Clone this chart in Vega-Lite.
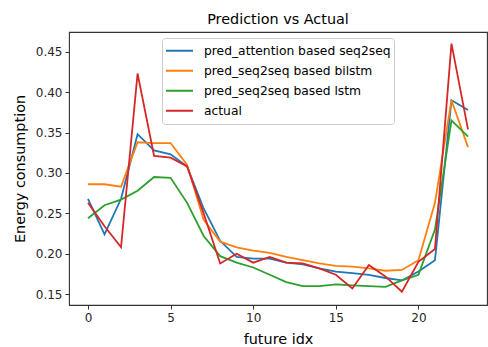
{
  "$schema": "https://vega.github.io/schema/vega-lite/v6.json",
  "autosize": {"type": "none"},
  "padding": {"left": 69, "top": 32, "right": 1, "bottom": 42},
  "width": 418,
  "height": 273,
  "background": "white",
  "config": {
    "font": "DejaVu Sans",
    "view": {"stroke": "#333333", "strokeWidth": 1.1},
    "axis": {
      "domain": false,
      "grid": false,
      "tickColor": "#333333",
      "tickSize": 4,
      "tickWidth": 1,
      "labelFont": "DejaVu Sans",
      "labelFontSize": 12,
      "labelColor": "#262626",
      "labelPadding": 3,
      "titleFont": "DejaVu Sans",
      "titleFontSize": 14.4,
      "titleFontWeight": "normal",
      "titleColor": "#000000"
    }
  },
  "title": {
    "text": "Prediction vs Actual",
    "font": "DejaVu Sans",
    "fontSize": 14.4,
    "fontWeight": "normal",
    "color": "#000000",
    "anchor": "middle",
    "offset": 4.5
  },
  "data": {
    "values": [
      {"idx": 0, "pred_attention based seq2seq": 0.268, "pred_seq2seq based bilstm": 0.286, "pred_seq2seq based lstm": 0.244, "actual": 0.263},
      {"idx": 1, "pred_attention based seq2seq": 0.224, "pred_seq2seq based bilstm": 0.286, "pred_seq2seq based lstm": 0.260, "actual": 0.234},
      {"idx": 2, "pred_attention based seq2seq": 0.268, "pred_seq2seq based bilstm": 0.283, "pred_seq2seq based lstm": 0.267, "actual": 0.208},
      {"idx": 3, "pred_attention based seq2seq": 0.348, "pred_seq2seq based bilstm": 0.338, "pred_seq2seq based lstm": 0.278, "actual": 0.423},
      {"idx": 4, "pred_attention based seq2seq": 0.328, "pred_seq2seq based bilstm": 0.337, "pred_seq2seq based lstm": 0.295, "actual": 0.321},
      {"idx": 5, "pred_attention based seq2seq": 0.323, "pred_seq2seq based bilstm": 0.337, "pred_seq2seq based lstm": 0.294, "actual": 0.319},
      {"idx": 6, "pred_attention based seq2seq": 0.308, "pred_seq2seq based bilstm": 0.310, "pred_seq2seq based lstm": 0.263, "actual": 0.308},
      {"idx": 7, "pred_attention based seq2seq": 0.256, "pred_seq2seq based bilstm": 0.242, "pred_seq2seq based lstm": 0.222, "actual": 0.250},
      {"idx": 8, "pred_attention based seq2seq": 0.216, "pred_seq2seq based bilstm": 0.215, "pred_seq2seq based lstm": 0.197, "actual": 0.188},
      {"idx": 9, "pred_attention based seq2seq": 0.196, "pred_seq2seq based bilstm": 0.208, "pred_seq2seq based lstm": 0.189, "actual": 0.200},
      {"idx": 10, "pred_attention based seq2seq": 0.194, "pred_seq2seq based bilstm": 0.204, "pred_seq2seq based lstm": 0.183, "actual": 0.189},
      {"idx": 11, "pred_attention based seq2seq": 0.194, "pred_seq2seq based bilstm": 0.201, "pred_seq2seq based lstm": 0.174, "actual": 0.196},
      {"idx": 12, "pred_attention based seq2seq": 0.189, "pred_seq2seq based bilstm": 0.196, "pred_seq2seq based lstm": 0.165, "actual": 0.189},
      {"idx": 13, "pred_attention based seq2seq": 0.187, "pred_seq2seq based bilstm": 0.192, "pred_seq2seq based lstm": 0.160, "actual": 0.188},
      {"idx": 14, "pred_attention based seq2seq": 0.182, "pred_seq2seq based bilstm": 0.188, "pred_seq2seq based lstm": 0.160, "actual": 0.182},
      {"idx": 15, "pred_attention based seq2seq": 0.178, "pred_seq2seq based bilstm": 0.185, "pred_seq2seq based lstm": 0.162, "actual": 0.174},
      {"idx": 16, "pred_attention based seq2seq": 0.176, "pred_seq2seq based bilstm": 0.184, "pred_seq2seq based lstm": 0.161, "actual": 0.157},
      {"idx": 17, "pred_attention based seq2seq": 0.174, "pred_seq2seq based bilstm": 0.182, "pred_seq2seq based lstm": 0.160, "actual": 0.186},
      {"idx": 18, "pred_attention based seq2seq": 0.170, "pred_seq2seq based bilstm": 0.179, "pred_seq2seq based lstm": 0.159, "actual": 0.172},
      {"idx": 19, "pred_attention based seq2seq": 0.167, "pred_seq2seq based bilstm": 0.180, "pred_seq2seq based lstm": 0.167, "actual": 0.153},
      {"idx": 20, "pred_attention based seq2seq": 0.178, "pred_seq2seq based bilstm": 0.192, "pred_seq2seq based lstm": 0.174, "actual": 0.190},
      {"idx": 21, "pred_attention based seq2seq": 0.192, "pred_seq2seq based bilstm": 0.263, "pred_seq2seq based lstm": 0.230, "actual": 0.206},
      {"idx": 22, "pred_attention based seq2seq": 0.390, "pred_seq2seq based bilstm": 0.390, "pred_seq2seq based lstm": 0.365, "actual": 0.460},
      {"idx": 23, "pred_attention based seq2seq": 0.378, "pred_seq2seq based bilstm": 0.332, "pred_seq2seq based lstm": 0.345, "actual": 0.354}
    ]
  },
  "transform": [
    {"fold": ["pred_attention based seq2seq", "pred_seq2seq based bilstm", "pred_seq2seq based lstm", "actual"], "as": ["series", "value"]}
  ],
  "mark": {"type": "line", "strokeWidth": 1.8, "clip": true},
  "encoding": {
    "x": {
      "field": "idx",
      "type": "quantitative",
      "scale": {"domain": [-1.15, 24.15], "nice": false, "zero": false},
      "axis": {"values": [0, 5, 10, 15, 20], "title": "future  idx", "titlePadding": 9}
    },
    "y": {
      "field": "value",
      "type": "quantitative",
      "scale": {"domain": [0.1366, 0.4744], "nice": false, "zero": false},
      "axis": {"values": [0.15, 0.2, 0.25, 0.3, 0.35, 0.4, 0.45], "format": ".2f", "title": "Energy consumption", "titlePadding": 8}
    },
    "color": {
      "field": "series",
      "type": "nominal",
      "scale": {
        "domain": ["pred_attention based seq2seq", "pred_seq2seq based bilstm", "pred_seq2seq based lstm", "actual"],
        "range": ["#1f77b4", "#ff7f0e", "#2ca02c", "#d62728"]
      },
      "legend": {
        "title": null,
        "orient": "none",
        "legendX": 93,
        "legendY": 6,
        "symbolType": "stroke",
        "symbolSize": 729,
        "symbolStrokeWidth": 1.8,
        "labelFont": "DejaVu Sans",
        "labelFontSize": 12.3,
        "labelColor": "#000000",
        "labelOffset": 10,
        "labelLimit": 300,
        "clipHeight": 19.5,
        "rowPadding": 0,
        "padding": 3,
        "fillColor": "rgba(255,255,255,0.8)",
        "strokeColor": "#cccccc",
        "cornerRadius": 3
      }
    }
  }
}
